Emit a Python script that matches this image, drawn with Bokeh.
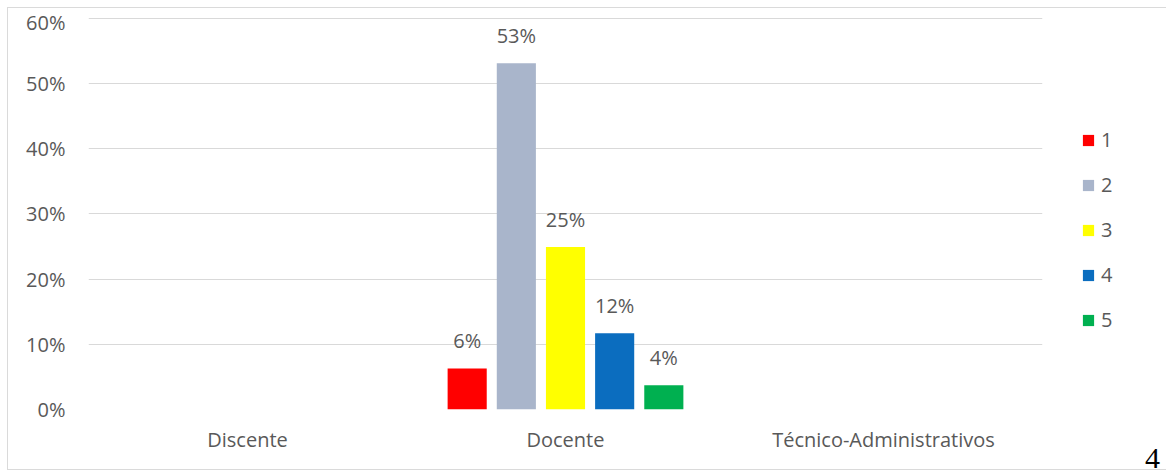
from bokeh.plotting import figure
from bokeh.models import (ColumnDataSource, FactorRange, Range1d, Legend, LegendItem,
                          PrintfTickFormatter, FixedTicker, Div)
from bokeh.transform import dodge
from bokeh.layouts import column
from bokeh.core.properties import value
from bokeh.embed import file_html
from bokeh.resources import INLINE

categories = ["Discente", "Docente", "Técnico-Administrativos"]
series = ["1", "2", "3", "4", "5"]
s1 = [0, 6.3, 0]
s2 = [0, 53.1, 0]
s3 = [0, 24.9, 0]
s4 = [0, 11.7, 0]
s5 = [0, 3.7, 0]
colors = ["#FF0000", "#A9B5CB", "#FFFF00", "#0B6DBF", "#00B050"]
y_ticks = [0, 10, 20, 30, 40, 50, 60]
page_note = "4"

data = {"cat": categories, "1": s1, "2": s2, "3": s3, "4": s4, "5": s5}
for s in series:
    data["lbl" + s] = [f"{round(v)}%" if v > 0 else "" for v in data[s]]
source = ColumnDataSource(data)

FONT = "Open Sans"
GRAY = "#595959"
FS = "20px"

p = figure(x_range=FactorRange(*categories), y_range=Range1d(0, 60.1),
           frame_width=952, frame_height=390,
           min_border_left=80, min_border_right=104, min_border_top=9, min_border_bottom=62,
           output_backend="svg", toolbar_location=None,
           background_fill_color="white", border_fill_color="white")
p.outline_line_color = None
p.styles = {"border": "1px solid #DADADA", "box-sizing": "border-box"}

pitch = 0.1546
width = 0.123
offsets = [-2 * pitch, -pitch, 0, pitch, 2 * pitch]
items = []
for s, c, off in zip(series, colors, offsets):
    r = p.vbar(x=dodge("cat", off, range=p.x_range), top=s, width=width, source=source,
               fill_color=c, line_color=None)
    items.append(LegendItem(label=s, renderers=[r]))
    p.text(x=dodge("cat", off, range=p.x_range), y=s, text="lbl" + s, source=source,
           text_align="center", text_baseline="bottom", y_offset=-14,
           text_font=value(FONT), text_font_size=FS, text_color=GRAY)

legend = Legend(items=items, location=(39, 76), orientation="vertical",
                glyph_width=14, glyph_height=14, label_height=24, spacing=18,
                padding=0, margin=0, border_line_color=None, background_fill_alpha=0,
                label_text_font=FONT, label_text_font_size=FS, label_text_color=GRAY,
                label_standoff=6)
p.add_layout(legend, "right")

p.xgrid.grid_line_color = None
p.ygrid.grid_line_color = "#D9D9D9"
p.ygrid.grid_line_width = 1

p.yaxis.ticker = FixedTicker(ticks=y_ticks)
p.yaxis.formatter = PrintfTickFormatter(format="%d%%")
for ax in (p.xaxis, p.yaxis):
    ax.axis_line_color = None
    ax.major_tick_line_color = None
    ax.minor_tick_line_color = None
    ax.major_label_text_color = GRAY
    ax.major_label_text_font = FONT
    ax.major_label_text_font_size = FS
p.yaxis.major_label_standoff = 17
p.xaxis.major_label_standoff = 10
p.x_range.range_padding = 0
p.x_range.group_padding = 0

note = Div(text=page_note, width=16, height=30, margin=0,
           styles={"position": "absolute", "left": "1138px", "top": "436px",
                   "font-family": "Liberation Serif", "font-size": "30px",
                   "line-height": "1", "color": "black"})

layout = column(p, note, margin=(7, 0, 0, 7))
open("out.html", "w").write(file_html(layout, INLINE))
